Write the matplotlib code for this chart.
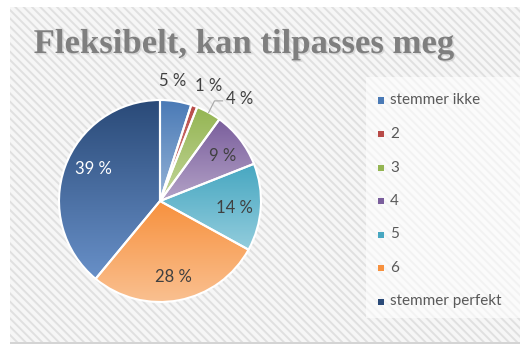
import numpy as np
import matplotlib
matplotlib.use('Agg')
import matplotlib.pyplot as plt
import matplotlib.patheffects as pe
from matplotlib.patches import Rectangle
from matplotlib.colors import LinearSegmentedColormap

title = 'Fleksibelt, kan tilpasses meg'
labels = ['stemmer ikke', '2', '3', '4', '5', '6', 'stemmer perfekt']
values = [5, 1, 4, 9, 14, 28, 39]

# slice colours: darker shade at the top, lighter tint at the bottom
tops = ['#4a7ab6', '#b84a47', '#94b552', '#7a5e9c', '#47a7c1', '#f7913e', '#2a4a78']
bottoms = ['#95b3d7', '#d99694', '#c3d69b', '#b3a2c7', '#93cddd', '#fac090', '#6890c8']
# percentage label placement: radius (fraction of pie radius) and angle shift in degrees
label_r = [1.19, 1.24, 1.28, 0.76, 0.74, 0.76, 0.73]
label_da = [3, -3, -9, -2, -2, -1, -6]

W, H = 520, 344
fig = plt.figure(figsize=(W / 100, H / 100), dpi=100)
fig.patch.set_facecolor('white')
plt.rcParams['hatch.linewidth'] = 1.4

def px(x, y):
    return x / W, 1 - y / H

# hatched chart area
bg = Rectangle(px(10, 342), (W - 10) / W, (342 - 7) / H, transform=fig.transFigure,
               facecolor='#f6f6f6', edgecolor='#e0e0e0', linewidth=0, hatch='\\\\\\\\',
               zorder=-10)
fig.patches.append(bg)
fig.patches.append(Rectangle(px(10, 344), (W - 10) / W, 2.5 / H, transform=fig.transFigure,
                             facecolor='#d4d4d4', linewidth=0, zorder=-10))

fig.text(*px(244, 53), title, ha='center', va='baseline', fontsize=25,
         family='Liberation Serif', weight='bold', color='#7f7f7f',
         path_effects=[pe.SimplePatchShadow(offset=(1, -1), shadow_rgbFace='#b0b0b0', alpha=0.4),
                       pe.Normal()])

# pie
r_px = 101
cx, cy = 160, 201
half = 115
ax = fig.add_axes([(cx - half) / W, (H - cy - half) / H, 2 * half / W, 2 * half / H])
wedges, _ = ax.pie(values, startangle=90, counterclock=False, colors=tops,
                   wedgeprops=dict(edgecolor='white', linewidth=1.5))
for w, c0, c1 in zip(wedges, tops, bottoms):
    ext = w.get_path().get_extents()
    cmap = LinearSegmentedColormap.from_list('g', [c1, c0])
    grad = np.linspace(0, 1, 256).reshape(-1, 1)
    im = ax.imshow(grad, extent=[ext.x0, ext.x1, ext.y0, ext.y1], origin='lower',
                   cmap=cmap, aspect='auto', zorder=2, interpolation='bilinear')
    im.set_clip_path(w)
    w.set_facecolor('none')
    w.set_zorder(3)

lim = half / r_px
ax.set_xlim(-lim, lim)
ax.set_ylim(-lim, lim)
ax.set_aspect('equal')
ax.axis('off')

total = sum(values)
start = 90.0
for i, v in enumerate(values):
    mid = start - v / total * 180
    start -= v / total * 360
    a = np.deg2rad(mid + label_da[i])
    tx, ty = label_r[i] * np.cos(a), label_r[i] * np.sin(a)
    col = 'white' if i == 6 else '#404040'
    ax.text(tx, ty, f'{v} %', ha='center', va='center', fontsize=12,
            family='Lato', color=col, zorder=5)
    if label_r[i] > 1.25:
        # leader line from the slice edge to the label
        ex, ey = np.cos(np.deg2rad(mid)), np.sin(np.deg2rad(mid))
        ax.plot([ex, tx - 0.245, tx - 0.165], [ey, ty - 0.02, ty - 0.02],
                color='#a6a6a6', lw=0.8, zorder=5, clip_on=False)

# legend
fig.patches.append(Rectangle(px(366, 318), (W - 366) / W, (318 - 77) / H,
                             transform=fig.transFigure, facecolor='white',
                             alpha=0.6, linewidth=0, zorder=-5))
for i, (lab, c) in enumerate(zip(labels, tops)):
    y = 100.5 + i * 33.5
    fig.patches.append(Rectangle(px(378, y + 3), 6 / W, 6 / H, transform=fig.transFigure,
                                 facecolor=c, linewidth=0))
    fig.text(*px(390, y), lab, ha='left', va='center', fontsize=11,
             family='Lato', color='#595959')

fig.savefig('out.png', dpi=100)
